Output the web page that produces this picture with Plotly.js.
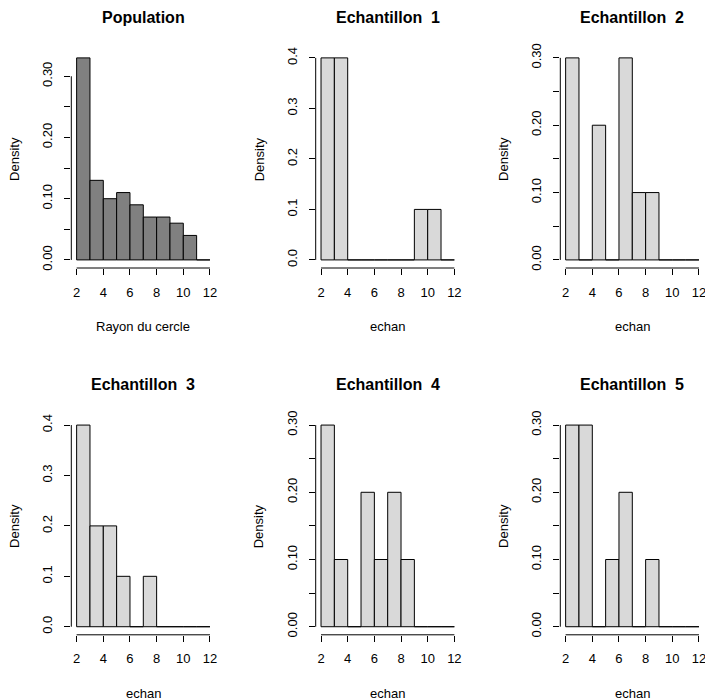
<!DOCTYPE html>
<html>
<head>
<meta charset="utf-8">
<script src="https://cdn.plot.ly/plotly-3.0.1.min.js"></script>
<style>html,body{margin:0;padding:0;background:#fff;}</style>
</head>
<body>
<div id="chart" style="width:705px;height:700px;"></div>
<script>
// ---- Data ----
var breaks = [2, 3, 4, 5, 6, 7, 8, 9, 10, 11, 12];
var population = [0.33, 0.13, 0.10, 0.11, 0.09, 0.07, 0.07, 0.06, 0.04, 0];
var echan1 = [0.4, 0.4, 0, 0, 0, 0, 0, 0.1, 0.1, 0];
var echan2 = [0.3, 0, 0.2, 0, 0.3, 0.1, 0.1, 0, 0, 0];
var echan3 = [0.4, 0.2, 0.2, 0.1, 0, 0.1, 0, 0, 0, 0];
var echan4 = [0.3, 0.1, 0, 0.2, 0.1, 0.2, 0.1, 0, 0, 0];
var echan5 = [0.3, 0.3, 0, 0.1, 0.2, 0, 0.1, 0, 0, 0];
var panelTitles = ["Population", "Echantillon  1", "Echantillon  2", "Echantillon  3", "Echantillon  4", "Echantillon  5"];
var xTitles = ["Rayon du cercle", "echan", "echan", "echan", "echan", "echan"];
var xTicks = [2, 4, 6, 8, 10, 12];
var yTicksA = [0, 0.05, 0.10, 0.15, 0.20, 0.25, 0.30];
var yLabelsA = ["0.00", "", "0.10", "", "0.20", "", "0.30"];
var yTicksB = [0, 0.1, 0.2, 0.3, 0.4];
var yLabelsB = ["0.0", "0.1", "0.2", "0.3", "0.4"];

var series = [population, echan1, echan2, echan3, echan4, echan5];
var yTickSets = [[yTicksA, yLabelsA], [yTicksB, yLabelsB], [yTicksA, yLabelsA],
                 [yTicksB, yLabelsB], [yTicksA, yLabelsA], [yTicksA, yLabelsA]];
var fills = ["#808080", "#d9d9d9", "#d9d9d9", "#d9d9d9", "#d9d9d9", "#d9d9d9"];

// ---- Layout geometry ----
var W = 705, H = 700;
var colPx = [[71.3, 215.3], [315.7, 459.7], [560.3, 704.3]];
var rowPx = [[49.8, 268], [417, 634.8]];
var FONT = "Liberation Sans, Arial, Helvetica, sans-serif";

var centers = [];
for (var i = 0; i < breaks.length - 1; i++) centers.push((breaks[i] + breaks[i + 1]) / 2);

var traces = [], shapes = [], annotations = [];
var layout = {
  width: W, height: H,
  margin: {l: 0, r: 0, t: 0, b: 0, pad: 0},
  paper_bgcolor: "#ffffff", plot_bgcolor: "#ffffff",
  showlegend: false,
  bargap: 0,
  font: {family: FONT, color: "#000000", size: 13}
};

for (var p = 0; p < 6; p++) {
  var r = Math.floor(p / 3), c = p % 3;
  var sfx = p === 0 ? "" : String(p + 1);
  var xa = "x" + sfx, ya = "y" + sfx;
  var vals = series[p];
  var ymax = Math.max.apply(null, vals);
  var xmin = breaks[0], xmax = breaks[breaks.length - 1];
  var xpad = 0.04 * (xmax - xmin), ypad = 0.04 * ymax;

  traces.push({
    type: "bar", x: centers, y: vals, width: 1,
    xaxis: xa, yaxis: ya,
    marker: {color: fills[p], line: {color: "#000000", width: 1}},
    hoverinfo: "x+y"
  });

  layout["xaxis" + sfx] = {
    domain: [colPx[c][0] / W, colPx[c][1] / W],
    range: [xmin - xpad, xmax + xpad],
    anchor: ya,
    showgrid: false, zeroline: false, showline: false,
    tickmode: "array", tickvals: xTicks, ticktext: xTicks.map(String),
    ticks: "outside", ticklen: 6, tickwidth: 1, tickcolor: "#000000",
    ticklabelstandoff: 6, ticklabeloverflow: "allow",
    tickfont: {family: FONT, size: 13, color: "#000000"},
    fixedrange: true
  };
  var yt = yTickSets[p];
  layout["yaxis" + sfx] = {
    domain: [1 - rowPx[r][1] / H, 1 - rowPx[r][0] / H],
    range: [-ypad, ymax + ypad],
    anchor: xa,
    showgrid: false, zeroline: false, showline: false,
    tickmode: "array", tickvals: yt[0], ticktext: yt[1],
    ticks: "outside", ticklen: 6, tickwidth: 1, tickcolor: "#000000",
    tickangle: -90, ticklabelstandoff: 7, ticklabeloverflow: "allow",
    tickfont: {family: FONT, size: 13, color: "#000000"},
    fixedrange: true
  };

  // axis lines spanning only the tick range, like R
  shapes.push({type: "line", xref: xa, yref: ya + " domain",
    x0: xTicks[0], x1: xTicks[xTicks.length - 1], y0: 0, y1: 0,
    line: {color: "#000000", width: 1}});
  shapes.push({type: "line", xref: xa + " domain", yref: ya,
    x0: 0, x1: 0, y0: yt[0][0], y1: yt[0][yt[0].length - 1],
    line: {color: "#000000", width: 1}});

  annotations.push({text: "<b>" + panelTitles[p] + "</b>", xref: xa + " domain", yref: ya + " domain",
    x: 0.5, y: 1, yshift: 32.5, xanchor: "center", yanchor: "middle", showarrow: false,
    font: {family: FONT, size: 16, color: "#000000"}});
  annotations.push({text: xTitles[p], xref: xa + " domain", yref: ya + " domain",
    x: 0.5, y: 0, yshift: -58.5, xanchor: "center", yanchor: "middle", showarrow: false,
    font: {family: FONT, size: 13, color: "#000000"}});
  annotations.push({text: "Density", xref: xa + " domain", yref: ya + " domain",
    x: 0, y: 0.5, xshift: -56.3, xanchor: "center", yanchor: "middle", showarrow: false,
    textangle: -90, font: {family: FONT, size: 13, color: "#000000"}});
}

layout.shapes = shapes;
layout.annotations = annotations;

Plotly.newPlot("chart", traces, layout, {displayModeBar: false, staticPlot: true});
</script>
</body>
</html>
